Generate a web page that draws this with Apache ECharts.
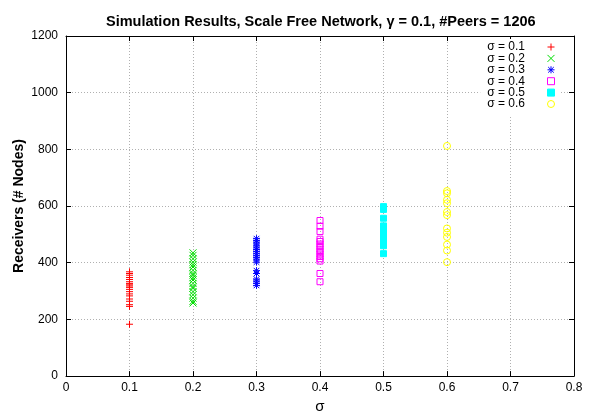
<!DOCTYPE html>
<html>
<head>
<meta charset="utf-8">
<script src="https://cdn.jsdelivr.net/npm/echarts@6/dist/echarts.min.js"></script>
<style>
  html, body { margin: 0; padding: 0; background: #fff; }
  #chart { width: 598px; height: 419px; }
</style>
</head>
<body>
<div id="chart"></div>
<script>
// sigma values (x) and receivers (y)
var sigmaLabels = ['σ = 0.1', 'σ = 0.2', 'σ = 0.3', 'σ = 0.4', 'σ = 0.5', 'σ = 0.6'];
var sigmas = [0.1, 0.2, 0.3, 0.4, 0.5, 0.6];
var recv01 = [368, 362, 356, 348, 341, 333, 327, 322, 318, 313, 306, 298, 290, 283, 272, 264, 252, 246, 183];
var recv02 = [435, 426, 414, 402, 393, 385, 373, 362, 356, 347, 339, 327, 316, 310, 298, 287, 275, 264, 258];
var recv03 = [485, 478, 470, 462, 455, 447, 440, 432, 425, 418, 410, 402, 372, 362, 342, 335, 327, 320];
var recv04 = [549, 529, 510, 483, 475, 466, 457, 448, 440, 431, 422, 414, 406, 362, 333];
var recv05 = [598, 588, 557, 530, 522, 515, 508, 500, 492, 485, 478, 470, 463, 460, 432];
var recv06 = [812, 653, 645, 622, 610, 579, 568, 521, 506, 491, 464, 443, 402];
var yTicks = [0, 200, 400, 600, 800, 1000, 1200];
var xTickLabels = ['0', '0.1', '0.2', '0.3', '0.4', '0.5', '0.6', '0.7', '0.8'];

var allRecv = [recv01, recv02, recv03, recv04, recv05, recv06];
var colors = ['#ff0000', '#00dd00', '#0000ff', '#ff00ff', '#00ffff', '#ffff00'];

var plusPath = 'path://M0,5H10M5,0V10';
var crossPath = 'path://M0,0L10,10M10,0L0,10';
var starPath = 'path://M0,5H10M5,0V10M1,1L9,9M9,1L1,9';
var squarePath = 'path://M0,0H10V10H0Z';

var symbols = [plusPath, crossPath, starPath, squarePath, squarePath, 'circle'];
var sizes = [7, 7, 7, 6, 6, 7];

var chart = echarts.init(document.getElementById('chart'));

var series = allRecv.map(function (vals, i) {
  var filled = i === 4;
  return {
    name: sigmaLabels[i],
    type: 'scatter',
    symbol: symbols[i],
    symbolSize: sizes[i],
    symbolKeepAspect: true,
    itemStyle: {
      color: filled ? colors[i] : 'rgba(0,0,0,0)',
      borderColor: colors[i],
      borderWidth: 1,
      opacity: 1
    },
    data: vals.map(function (v) { return [sigmas[i], v]; })
  };
});

var axisBase = {
  axisLine: { show: true, onZero: false, lineStyle: { color: '#000', width: 1 } },
  axisTick: { show: true, inside: true, length: 5, lineStyle: { color: '#000' } }
};

chart.setOption({
  animation: false,
  backgroundColor: '#fff',
  textStyle: { fontFamily: 'Liberation Sans' },
  title: {
    text: 'Simulation Results, Scale Free Network, γ = 0.1, #Peers = 1206',
    left: 101,
    top: 9,
    textStyle: { fontSize: 14.5, fontWeight: 'bold', color: '#000', fontFamily: 'Liberation Sans' }
  },
  legend: {
    orient: 'vertical',
    right: 39,
    top: 39,
    align: 'right',
    itemGap: -0.6,
    itemWidth: 42,
    itemHeight: 7,
    padding: [2, 4, 6, 7],
    backgroundColor: '#fff',
    itemStyle: { borderWidth: 1 },
    textStyle: { fontSize: 12, color: '#000', fontFamily: 'Liberation Sans' },
    data: sigmaLabels
  },
  grid: { left: 66, right: 24, top: 36, bottom: 38 },
  xAxis: [
    Object.assign({
      type: 'value',
      min: 0,
      max: 0.8,
      interval: 0.1,
      name: 'σ',
      nameLocation: 'middle',
      nameGap: 21,
      nameTextStyle: { fontSize: 15, color: '#000' },
      axisLabel: {
        color: '#000', fontSize: 12, margin: 6,
        formatter: function (v) { return xTickLabels[Math.round(v * 10)]; }
      },
      splitLine: { show: true, lineStyle: { color: '#b0b0b0', type: [1, 2] } }
    }, axisBase),
    Object.assign({
      type: 'value', position: 'top', min: 0, max: 0.8, interval: 0.1,
      axisLabel: { show: false }, splitLine: { show: false }
    }, axisBase)
  ],
  yAxis: [
    Object.assign({
      type: 'value',
      min: yTicks[0],
      max: yTicks[yTicks.length - 1],
      interval: 200,
      name: 'Receivers (# Nodes)',
      nameLocation: 'middle',
      nameGap: 40,
      nameMoveOverlap: false,
      nameTextStyle: { fontSize: 14, fontWeight: 'bold', color: '#000' },
      axisLabel: {
        color: '#000', fontSize: 12, margin: 8,
        formatter: function (v) { return String(v); }
      },
      splitLine: { show: true, lineStyle: { color: '#b0b0b0', type: [1, 2] } }
    }, axisBase),
    Object.assign({
      type: 'value', position: 'right', min: 0, max: 1200, interval: 200,
      axisLabel: { show: false }, splitLine: { show: false }
    }, axisBase)
  ],
  series: series
});
</script>
</body>
</html>
